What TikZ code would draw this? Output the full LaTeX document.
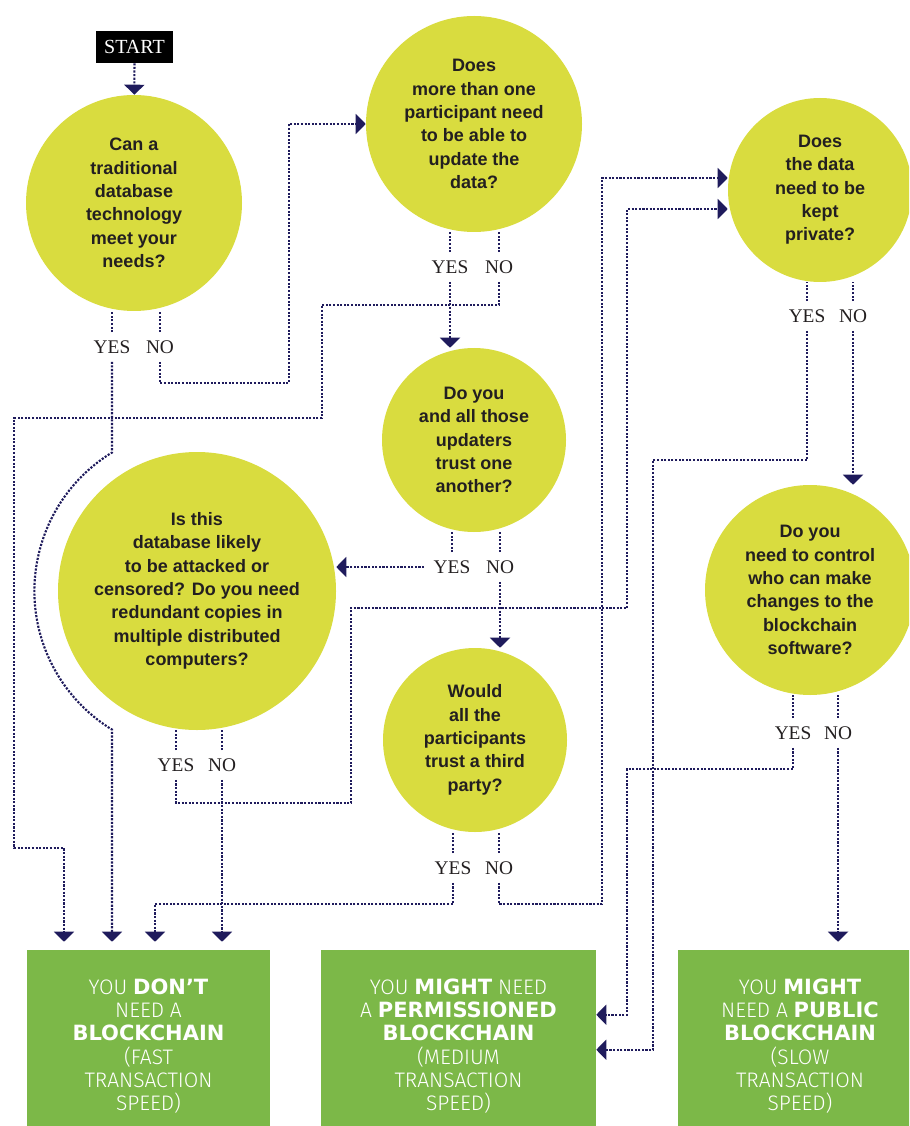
\documentclass[tikz,border=0pt]{standalone}
\usepackage{fontspec}
\setmainfont{Liberation Sans}
\newfontfamily\qfont{Liberation Sans}
\newfontfamily\ynfont{Liberation Serif}
\newfontfamily\thinfont{Fira Sans Light}
\newfontfamily\heavyfont{DejaVu Sans}
\usetikzlibrary{arrows.meta, calc}

\definecolor{lime}{HTML}{D9DC3F}
\definecolor{leaf}{HTML}{7CB848}
\definecolor{navy}{HTML}{1F1B5C}
\definecolor{ink}{HTML}{231F20}

\newcommand{\hv}[1]{{\heavyfont\bfseries #1}}

\begin{document}
\begin{tikzpicture}[x=0.75pt, y=-0.75pt,
  question/.style={circle, fill=lime, inner sep=0pt, text=ink, align=center,
    font=\qfont\bfseries\fontsize{13.5}{17.5}\selectfont},
  answer/.style={rectangle, fill=leaf, text=white, align=center, inner sep=0pt,
    minimum height=144pt, font=\thinfont\fontsize{15.75}{17.5}\selectfont},
  yn/.style={text=ink, inner xsep=1pt, inner ysep=6pt,
    font=\ynfont\fontsize{14.5}{15}\selectfont},
  wire/.style={navy, line width=1.6pt, dash pattern=on 1.6pt off 1.1pt},
  flow/.style={wire, -{Triangle[width=15pt,length=7.5pt]}}
]
\useasboundingbox (0,0) rectangle (909,1126);
\clip (0,0) rectangle (909,1126);

% start
\node[fill=black, text=white, inner sep=0pt, minimum width=57.75pt, minimum height=24pt,
  font=\ynfont\fontsize{15}{15}\selectfont] (start) at (134.5,47) {START};

% questions
\node[question, minimum size=162pt] (q1) at (134,203)
  {Can a\\traditional\\database\\technology\\meet your\\needs?};
\node[question, minimum size=162pt] (q2) at (474,124)
  {Does\\more than one\\participant need\\to be able to\\update the\\data?};
\node[question, minimum size=138pt] (q3) at (474,440)
  {Do you\\and all those\\updaters\\trust one\\another?};
\node[question, minimum size=208.5pt] (q4) at (197,591)
  {Is this\\database likely\\to be attacked or\\censored? Do you need\\redundant copies in\\multiple distributed\\computers?};
\node[question, minimum size=138pt] (q5) at (475,740)
  {Would\\all the\\participants\\trust a third\\party?};
\node[question, minimum size=138pt] (q6) at (820,190)
  {Does\\the data\\need to be\\kept\\private?};
\node[question, minimum size=157.5pt] (q7) at (810,590)
  {Do you\\need to control\\who can make\\changes to the\\blockchain\\software?};

% answers
\node[answer, minimum width=182.25pt] (r1) at (148.5,1046)
  {YOU \hv{DON’T}\\NEED A\\\hv{BLOCKCHAIN}\\(FAST\\TRANSACTION\\SPEED)};
\node[answer, minimum width=206.25pt] (r2) at (458.5,1046)
  {YOU \hv{MIGHT} NEED\\A \hv{PERMISSIONED}\\\hv{BLOCKCHAIN}\\(MEDIUM\\TRANSACTION\\SPEED)};
\node[answer, minimum width=183pt] (r3) at (800,1046)
  {YOU \hv{MIGHT}\\NEED A \hv{PUBLIC}\\\hv{BLOCKCHAIN}\\(SLOW\\TRANSACTION\\SPEED)};

% yes / no labels
\node[yn] (y1) at (112,347) {YES};  \node[yn] (n1) at (160,347) {NO};
\node[yn] (y2) at (450,267) {YES};  \node[yn] (n2) at (499,267) {NO};
\node[yn] (y3) at (452,567) {YES};  \node[yn] (n3) at (500,567) {NO};
\node[yn] (y4) at (176,765) {YES};  \node[yn] (n4) at (222,765) {NO};
\node[yn] (y5) at (453,868) {YES};  \node[yn] (n5) at (499,868) {NO};
\node[yn] (y6) at (807,316) {YES};  \node[yn] (n6) at (853,316) {NO};
\node[yn] (y7) at (793,733) {YES};  \node[yn] (n7) at (838,733) {NO};

% stubs
\foreach \q/\a/\b in {q1/y1/n1, q2/y2/n2, q3/y3/n3, q4/y4/n4, q5/y5/n5, q6/y6/n6, q7/y7/n7} {
  \draw[wire] (\a) -- (\a |- \q.south);
  \draw[wire] (\b) -- (\b |- \q.south);
}

% entry points
\coordinate (k1) at (64,848);
\coordinate (k2) at (155,904);
\coordinate (q6in1) at ($(q6.west)+(0,-12)$);
\coordinate (q6in2) at ($(q6.west)+(0,19)$);
\coordinate (r2in1) at ($(r2.north east)+(0,65)$);
\coordinate (r2in2) at ($(r2.north east)+(0,100)$);

% connectors
\draw[flow] (start) -- (q1);
\draw[flow, shorten >=6pt] (y1) -- (112,452.5)
  arc[start angle=238.5, end angle=121.5, radius=162.5] -- (r1.north -| y1);
\draw[flow] (n1) |- (289,383) |- (q2);
\draw[flow] (y2) -- (y2 |- q3.north);
\draw[flow, shorten >=6pt] (n2) |- (322,305) |- (14,418) |- (k1) -- (k1 |- r1.north);
\draw[flow, shorten <=6pt] (y3) -- (y3 -| q4.east);
\draw[flow] (n3) -- (n3 |- q5.north);
\draw[flow] (y4) |- (351,803) |- (627,608) |- (q6in2);
\draw[flow, shorten >=6pt] (n4) -- (n4 |- r1.north);
\draw[flow, shorten >=6pt] (y5) |- (k2) -- (k2 |- r1.north);
\draw[flow] (n5) |- (602,904) |- (q6in1);
\draw[flow] (y6) |- (653,460) |- (r2in2);
\draw[flow] (n6) -- (n6 |- q7.north);
\draw[flow] (y7) |- (627,769) |- (r2in1);
\draw[flow, shorten >=6pt] (n7) -- (n7 |- r3.north);

\end{tikzpicture}
\end{document}
